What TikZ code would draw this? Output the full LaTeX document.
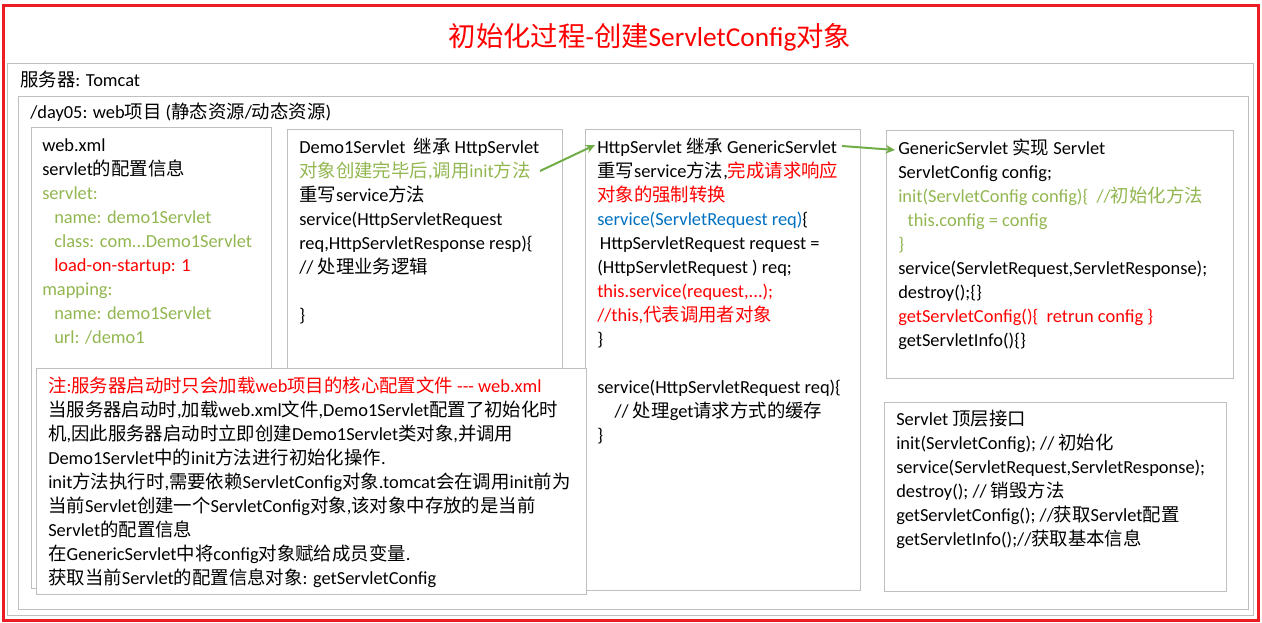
\documentclass[tikz,border=0pt]{standalone}
\usepackage{fontspec}
\setmainfont{Carlito}
\newfontfamily\cjkfont{Noto Sans CJK SC}
\usepackage{tikz}
\usetikzlibrary{arrows.meta}
\usepackage{xcolor}
\definecolor{boxline}{RGB}{191,191,191}
\definecolor{framered}{RGB}{237,28,36}
\definecolor{txtgreen}{RGB}{146,182,80}
\definecolor{txtblue}{RGB}{0,112,192}
\definecolor{arrowgreen}{RGB}{112,173,71}

% switch to the CJK family for ideographs, back to Carlito for the rest
\XeTeXinterchartokenstate=1
\chardef\cjkclass=7
\newcount\cjkcnt
\cjkcnt="21
\loop
  \XeTeXcharclass\cjkcnt=0
  \ifnum\cjkcnt<"7E \advance\cjkcnt by 1
\repeat
\cjkcnt="4E00
\loop
  \XeTeXcharclass\cjkcnt=\cjkclass
  \ifnum\cjkcnt<"9FFF \advance\cjkcnt by 1
\repeat
\XeTeXinterchartoks 0 \cjkclass = {\cjkfont}
\XeTeXinterchartoks 4095 \cjkclass = {\cjkfont}
\XeTeXinterchartoks \cjkclass 0 = {\rmfamily}
\XeTeXinterchartoks 4095 0 = {\rmfamily}

\begin{document}
\begin{tikzpicture}[x=0.75pt, y=-0.75pt,
  frame/.style={draw=boxline, line width=0.75pt, anchor=north west, inner sep=0pt},
  notebox/.style={frame, fill=white},
  txt/.style={anchor=north west, inner sep=0pt, align=left, font=\fontsize{13.8}{18}\selectfont},
  flow/.style={draw=arrowgreen, line width=1.5pt, -{Stealth[length=7pt, width=6.5pt]}}
]
\useasboundingbox (0,0) rectangle (1262,623);

% ---- outer frame and title ----
\node[draw=framered, line width=2.25pt, anchor=north west, inner sep=0pt,
      minimum width=941.25pt, minimum height=460.5pt] (outer) at (1.5,4.5) {};
\node[font=\fontsize{20.5}{24}\selectfont, text=red] (title) at (650,37) {初始化过程-创建ServletConfig对象};

% ---- server and project frames ----
\node[frame, minimum width=934.5pt, minimum height=414pt] (server) at (7,63) {};
\node[txt] (serverlbl) at (20,69) {\strut 服务器: Tomcat};
\node[frame, minimum width=922.5pt, minimum height=384.75pt] (project) at (18,96) {};
\node[txt] (projectlbl) at (30,101) {\strut /day05: web项目 (静态资源/动态资源)};

% ---- web.xml ----
\node[frame, minimum width=180pt, minimum height=345.75pt] (xmlbox) at (31,127) {};
\node[txt] (xmltext) at (42,134) {\strut web.xml\\
  servlet的配置信息\\
  \textcolor{txtgreen}{servlet:}\\
  \hspace*{9pt}\textcolor{txtgreen}{name: demo1Servlet}\\
  \hspace*{9pt}\textcolor{txtgreen}{class: com...Demo1Servlet}\\
  \hspace*{9pt}\textcolor{red}{load-on-startup: 1}\\
  \textcolor{txtgreen}{mapping:}\\
  \hspace*{9pt}\textcolor{txtgreen}{name: demo1Servlet}\\
  \hspace*{9pt}\textcolor{txtgreen}{url: /demo1}};

% ---- Demo1Servlet ----
\node[frame, minimum width=206.25pt, minimum height=345.75pt] (demobox) at (287,129) {};
\node[txt] (demotext) at (299,136) {\strut Demo1Servlet\ \ 继承 HttpServlet\\
  \textcolor{txtgreen}{对象创建完毕后,调用init方法}\\
  重写service方法\\
  service(HttpServletRequest\\
  req,HttpServletResponse resp)\{\\
  // 处理业务逻辑\\
  \\
  \}};

% ---- HttpServlet ----
\node[frame, minimum width=206.25pt, minimum height=345.75pt] (httpbox) at (585,129) {};
\node[txt] (httptext) at (597,136) {\strut HttpServlet 继承 GenericServlet\\
  重写service方法,\textcolor{red}{完成请求响应}\\
  \textcolor{red}{对象的强制转换}\\
  \textcolor{txtblue}{service(ServletRequest req)}\{\\
  \hspace*{2pt}HttpServletRequest request =\\
  (HttpServletRequest ) req;\\
  \textcolor{red}{this.service(request,...);}\\
  \textcolor{red}{//this,代表调用者对象}\\
  \}\\
  \\
  service(HttpServletRequest req)\{\\
  \hspace*{13pt}// 处理get请求方式的缓存\\
  \}};

% ---- GenericServlet ----
\node[frame, minimum width=260.25pt, minimum height=186pt] (genbox) at (886,130) {};
\node[txt] (gentext) at (898,137) {\strut GenericServlet 实现 Servlet\\
  ServletConfig config;\\
  \textcolor{txtgreen}{init(ServletConfig config)\{\ \ //初始化方法}\\
  \hspace*{7pt}\textcolor{txtgreen}{this.config = config}\\
  \textcolor{txtgreen}{\}}\\
  service(ServletRequest,ServletResponse);\\
  destroy();\{\}\\
  \textcolor{red}{getServletConfig()\{\ \ retrun config \}}\\
  getServletInfo()\{\}};

% ---- Servlet interface ----
\node[frame, minimum width=256.5pt, minimum height=141.75pt] (servletbox) at (884,402) {};
\node[txt] (servlettext) at (896,408) {\strut Servlet 顶层接口\\
  init(ServletConfig); // 初始化\\
  service(ServletRequest,ServletResponse);\\
  destroy(); // 销毁方法\\
  getServletConfig(); //获取Servlet配置\\
  getServletInfo();//获取基本信息};

% ---- note on top ----
\node[notebox, minimum width=412.5pt, minimum height=169.5pt] (notebox) at (36,368) {};
\node[txt] (notetext) at (48,375) {\strut \textcolor{red}{注:服务器启动时只会加载web项目的核心配置文件 -{}-{}- web.xml}\\
  当服务器启动时,加载web.xml文件,Demo1Servlet配置了初始化时\\
  机,因此服务器启动时立即创建Demo1Servlet类对象,并调用\\
  Demo1Servlet中的init方法进行初始化操作.\\
  init方法执行时,需要依赖ServletConfig对象.tomcat会在调用init前为\\
  当前Servlet创建一个ServletConfig对象,该对象中存放的是当前\\
  Servlet的配置信息\\
  在GenericServlet中将config对象赋给成员变量.\\
  获取当前Servlet的配置信息对象: getServletConfig};

% ---- inheritance arrows ----
\coordinate (initend) at (540,171);
\coordinate (httpstart) at (595,145);
\coordinate (genend) at (842,146);
\coordinate (genstart) at (895,150);
\draw[flow] (initend) -- (httpstart);
\draw[flow] (genend) -- (genstart);

\end{tikzpicture}
\end{document}
